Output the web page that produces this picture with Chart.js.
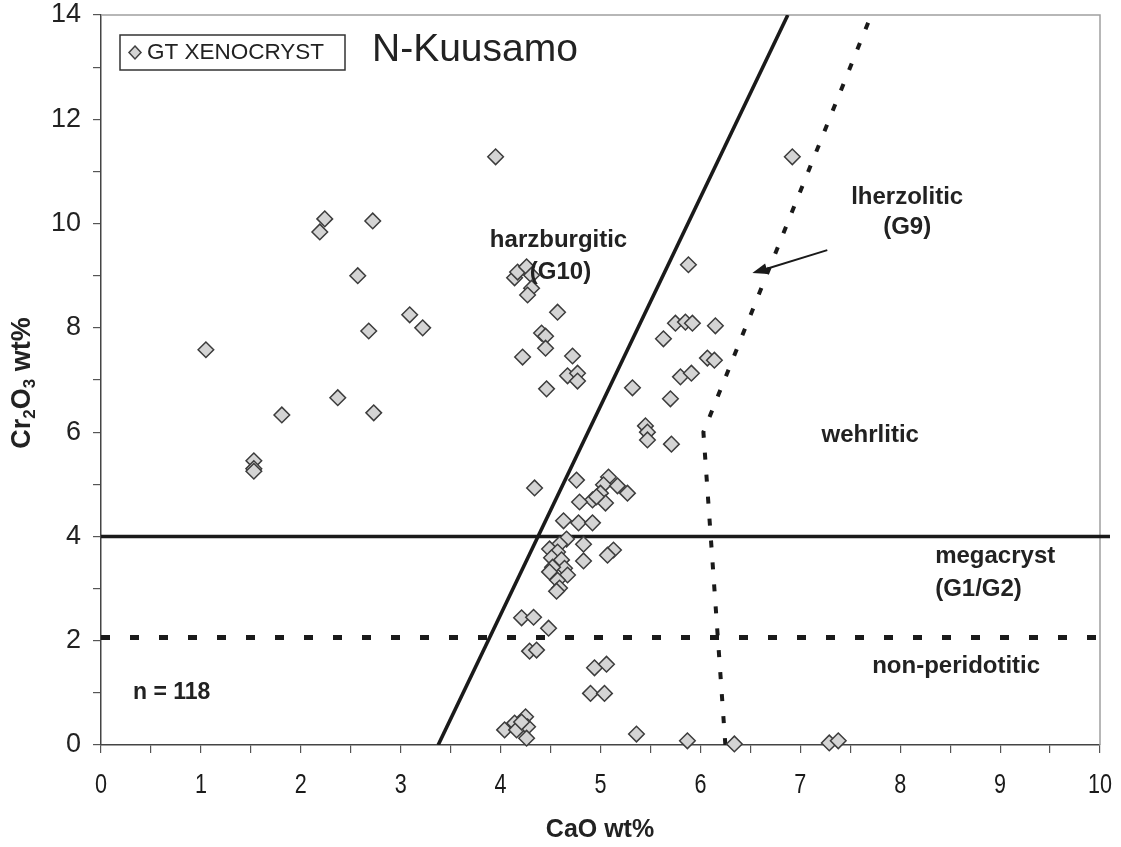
<!DOCTYPE html>
<html>
<head>
<meta charset="utf-8">
<script src="https://cdn.jsdelivr.net/npm/chart.js@4.4.0/dist/chart.umd.min.js"></script>
<style>
  body { margin: 0; background: #fff; }
</style>
</head>
<body>
<canvas id="garnetChart" width="1121" height="847"></canvas>
<script>
// garnet xenocrysts, N-Kuusamo (CaO vs Cr2O3, wt%)
const cao = [
  1.05, 1.81, 1.53, 1.53, 1.53, 2.24, 2.19, 2.72, 2.57, 3.95, 2.68, 3.09, 3.22, 2.37, 2.73,
  4.14, 4.17, 4.26, 4.31, 4.31, 4.27, 4.57, 4.41, 4.45, 4.45, 4.22, 4.72, 4.67, 4.77, 4.77, 4.46,
  5.75, 5.85, 5.92, 6.15, 5.63, 6.07, 6.14, 5.80, 5.91, 5.32, 5.70, 5.45, 5.47, 5.47, 5.71, 6.92, 5.88,
  4.34, 4.76, 5.08, 5.03, 5.17, 5.27, 5.00, 4.92, 4.79, 5.05, 4.96, 4.63, 4.78, 4.92, 4.66, 4.59,
  4.83, 4.49, 4.57, 5.13, 5.07, 4.51, 4.83, 4.61, 4.64, 4.52, 4.49, 4.67, 4.57, 4.59, 4.56,
  4.21, 4.33, 4.48, 4.29, 4.36, 4.94, 5.06, 4.90, 5.04, 5.36, 4.04, 4.14, 4.16, 4.25, 4.27, 4.26, 4.21,
  5.87, 6.34, 7.29, 7.38
];
const cr2o3 = [
  7.58, 6.33, 5.45, 5.30, 5.25, 10.09, 9.84, 10.05, 9.00, 11.28, 7.94, 8.25, 8.00, 6.66, 6.37,
  8.96, 9.07, 9.17, 9.01, 8.76, 8.63, 8.30, 7.90, 7.84, 7.61, 7.44, 7.46, 7.08, 7.13, 6.98, 6.83,
  8.09, 8.11, 8.09, 8.04, 7.79, 7.42, 7.38, 7.06, 7.13, 6.85, 6.64, 6.12, 6.00, 5.85, 5.77, 11.28, 9.21,
  4.93, 5.08, 5.14, 4.99, 4.97, 4.83, 4.83, 4.70, 4.66, 4.64, 4.76, 4.30, 4.26, 4.26, 3.95, 3.85,
  3.85, 3.76, 3.70, 3.74, 3.64, 3.59, 3.53, 3.55, 3.39, 3.41, 3.32, 3.26, 3.16, 3.01, 2.95,
  2.44, 2.45, 2.24, 1.80, 1.82, 1.48, 1.55, 0.99, 0.99, 0.21, 0.29, 0.42, 0.29, 0.54, 0.35, 0.13, 0.44,
  0.08, 0.02, 0.04, 0.08
];

// classification boundaries
const g10LineX = [3.375, 6.875];
const g10LineY = [0, 14];
const megaLineX = [0, 10.1];
const megaLineY = [4, 4];
const nonPeridX = [0, 10];
const nonPeridY = [2.06, 2.06];
const g9LineX = [6.25, 6.03, 7.71];
const g9LineY = [0, 6, 14];

const xTicks = [0, 1, 2, 3, 4, 5, 6, 7, 8, 9, 10];
const yTicks = [0, 2, 4, 6, 8, 10, 12, 14];

const fieldLabels = [
  { text: "harzburgitic", x: 4.58, y: 9.67, align: "center" },
  { text: "(G10)", x: 4.60, y: 9.07, align: "center" },
  { text: "lherzolitic", x: 8.07, y: 10.51, align: "center" },
  { text: "(G9)", x: 8.07, y: 9.92, align: "center" },
  { text: "wehrlitic", x: 7.70, y: 5.93, align: "center" },
  { text: "megacryst", x: 8.35, y: 3.61, align: "left" },
  { text: "(G1/G2)", x: 8.35, y: 2.99, align: "left" },
  { text: "non-peridotitic", x: 8.56, y: 1.50, align: "center" },
  { text: "n = 118", x: 0.32, y: 1.00, align: "left" }
];
const arrowFrom = [7.27, 9.49];
const arrowTo = [6.52, 9.05];

const toPoints = (xs, ys) => xs.map((v, i) => ({ x: v, y: ys[i] }));

const FONT = "'Liberation Sans', Arial, sans-serif";
const TEXT = "#222";

const annotations = {
  id: "annotations",
  beforeDatasetsDraw(chart) {
    const { ctx, chartArea: a, scales: { x } } = chart;
    ctx.save();
    ctx.strokeStyle = "#a0a0a0";
    ctx.lineWidth = 1.5;
    ctx.beginPath();
    ctx.moveTo(a.left, a.top);
    ctx.lineTo(a.right, a.top);
    ctx.lineTo(a.right, a.bottom);
    ctx.stroke();

    // x tick labels, in a condensed face like the original
    ctx.fillStyle = "#1a1a1a";
    ctx.font = "27px " + FONT;
    ctx.textAlign = "center";
    ctx.textBaseline = "middle";
    xTicks.forEach(v => {
      const px = x.getPixelForValue(v);
      ctx.save();
      ctx.translate(px, 786);
      ctx.scale(0.8, 1);
      ctx.fillText(String(v), 0, 0);
      ctx.restore();
    });
    ctx.restore();
  },
  afterDatasetsDraw(chart) {
    const { ctx, scales: { x, y } } = chart;
    ctx.save();
    ctx.fillStyle = TEXT;
    ctx.textBaseline = "middle";

    // field names
    fieldLabels.forEach(l => {
      ctx.font = (l.text === "n = 118" ? "bold 23px " : "bold 24px ") + FONT;
      ctx.textAlign = l.align;
      ctx.fillText(l.text, x.getPixelForValue(l.x), y.getPixelForValue(l.y));
    });

    // arrow to the G9 boundary
    const x1 = x.getPixelForValue(arrowFrom[0]), y1 = y.getPixelForValue(arrowFrom[1]);
    const x2 = x.getPixelForValue(arrowTo[0]), y2 = y.getPixelForValue(arrowTo[1]);
    const ang = Math.atan2(y2 - y1, x2 - x1);
    ctx.strokeStyle = "#1a1a1a";
    ctx.lineWidth = 2;
    ctx.beginPath();
    ctx.moveTo(x1, y1);
    ctx.lineTo(x2 - 10 * Math.cos(ang), y2 - 10 * Math.sin(ang));
    ctx.stroke();
    ctx.fillStyle = "#1a1a1a";
    ctx.beginPath();
    ctx.moveTo(x2, y2);
    ctx.lineTo(x2 - 15 * Math.cos(ang) + 5.5 * Math.sin(ang), y2 - 15 * Math.sin(ang) - 5.5 * Math.cos(ang));
    ctx.lineTo(x2 - 15 * Math.cos(ang) - 5.5 * Math.sin(ang), y2 - 15 * Math.sin(ang) + 5.5 * Math.cos(ang));
    ctx.closePath();
    ctx.fill();

    // legend box
    ctx.strokeStyle = "#333";
    ctx.lineWidth = 1.5;
    ctx.strokeRect(120, 35, 225, 35);
    ctx.fillStyle = "#d4d4d4";
    ctx.beginPath();
    ctx.moveTo(135, 46); ctx.lineTo(141, 52.5); ctx.lineTo(135, 59); ctx.lineTo(129, 52.5);
    ctx.closePath();
    ctx.fill();
    ctx.strokeStyle = "#404040";
    ctx.stroke();
    ctx.fillStyle = TEXT;
    ctx.textAlign = "left";
    ctx.font = "22.5px " + FONT;
    ctx.fillText("GT XENOCRYST", 147, 53);

    // title
    ctx.font = "39px " + FONT;
    ctx.fillText("N-Kuusamo", 372, 50);

    // x axis title
    ctx.textAlign = "center";
    ctx.font = "bold 25px " + FONT;
    ctx.fillText("CaO wt%", 600, 830);

    // y axis title with subscripts
    ctx.translate(23, 383);
    ctx.rotate(-Math.PI / 2);
    const parts = [["Cr", 0, 27], ["2", 7, 17], ["O", 0, 27], ["3", 7, 17], [" wt%", 0, 27]];
    let total = 0;
    parts.forEach(p => { ctx.font = "bold " + p[2] + "px " + FONT; total += ctx.measureText(p[0]).width; });
    let cx = -total / 2;
    ctx.textAlign = "left";
    parts.forEach(p => {
      ctx.font = "bold " + p[2] + "px " + FONT;
      ctx.fillText(p[0], cx, p[1]);
      cx += ctx.measureText(p[0]).width;
    });
    ctx.restore();
  }
};

function lineSet(xs, ys, width, dash, clip) {
  return {
    data: toPoints(xs, ys),
    showLine: true,
    borderColor: "#1a1a1a",
    borderWidth: width,
    borderDash: dash,
    pointRadius: 0,
    fill: false,
    clip: clip,
    order: 2
  };
}

new Chart(document.getElementById("garnetChart"), {
  type: "scatter",
  data: {
    datasets: [
      {
        label: "GT XENOCRYST",
        data: toPoints(cao, cr2o3),
        pointStyle: "rectRot",
        pointRadius: 7.8,
        backgroundColor: "#d4d4d4",
        borderColor: "#3c3c3c",
        borderWidth: 1.5,
        clip: false,
        order: 1
      },
      lineSet(g10LineX, g10LineY, 3.6, [], undefined),
      lineSet(megaLineX, megaLineY, 3.6, [], false),
      lineSet(nonPeridX, nonPeridY, 5, [9, 20], undefined),
      lineSet(g9LineX, g9LineY, 4, [7, 15], undefined)
    ]
  },
  options: {
    responsive: false,
    animation: false,
    layout: { padding: { top: 15, right: 21, left: 0, bottom: 0 } },
    plugins: {
      legend: { display: false },
      tooltip: { enabled: false }
    },
    scales: {
      x: {
        type: "linear",
        min: 0,
        max: 10,
        afterFit: s => { s.height = 102; s.paddingLeft = 0; s.paddingRight = 0; },
        ticks: {
          stepSize: 0.5,
          autoSkip: false,
          maxRotation: 0,
          font: { family: FONT, size: 10 },
          callback: () => ""
        },
        grid: { drawOnChartArea: false, tickLength: 8, color: "#555", lineWidth: 1.2 },
        border: { color: "#444", width: 1.5 }
      },
      y: {
        type: "linear",
        min: 0,
        max: 14,
        afterFit: s => { s.width = 101; s.paddingTop = 0; s.paddingBottom = 0; },
        ticks: {
          stepSize: 1,
          autoSkip: false,
          padding: 12,
          color: TEXT,
          font: { family: FONT, size: 27 },
          callback: v => yTicks.includes(v) ? String(v) : ""
        },
        grid: { drawOnChartArea: false, tickLength: 8, color: "#555", lineWidth: 1.2 },
        border: { color: "#444", width: 1.5 }
      }
    }
  },
  plugins: [annotations]
});
</script>
</body>
</html>
